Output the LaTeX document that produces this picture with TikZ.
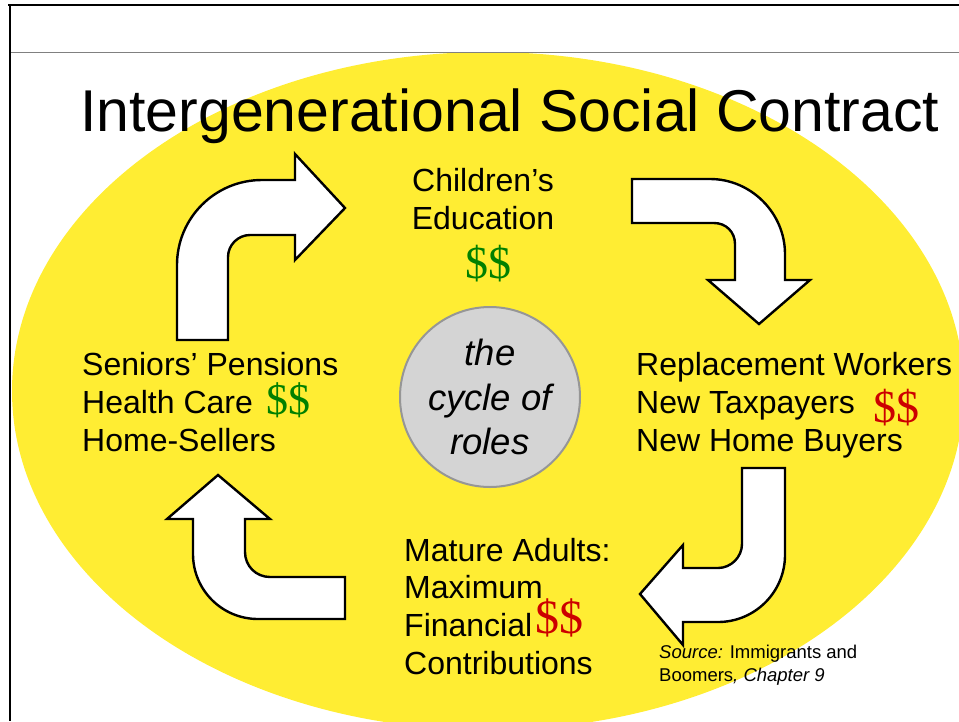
\documentclass[tikz,border=0pt]{standalone}
\usepackage{fontspec}
\setmainfont{Liberation Sans}
\newfontfamily\cashfont{Liberation Serif}
\usepackage[]{tikz}
\usetikzlibrary{positioning}
\definecolor{bgyellow}{RGB}{255,237,51}
\definecolor{cashgreen}{RGB}{0,128,0}
\definecolor{cashred}{RGB}{204,0,0}
\definecolor{hubgray}{RGB}{212,212,212}
\definecolor{rimgray}{RGB}{150,150,150}
\tikzset{blockarrow/.style={draw=black,line width=2.4pt,fill=white},
  role/.style={anchor=base west,align=left,inner sep=0pt,font=\fontsize{32}{37.6}\selectfont},
  cash/.style={anchor=base west,inner sep=0pt,font=\cashfont\fontsize{46}{46}\selectfont}}

\begin{document}
\begin{tikzpicture}[x=1pt,y=-1pt] % pixel units, y downwards
            \useasboundingbox (0,0) rectangle (959,721);
            \begin{scope}
              \clip (0,0) rectangle (959,721);
              \fill[bgyellow] (488,391) ellipse [x radius=476, y radius=339];
            \end{scope}
            \draw[line width=2pt] (8,5) -- (959,5);
            \draw[line width=2.5pt] (10,4) -- (10,721);
            \draw[gray,line width=1pt] (11,52) -- (959,52);  % slide frame
            \node[anchor=base west,inner sep=0pt,font=\fontsize{59}{59}\selectfont] (title) at (80,131) {Intergenerational Social Contract};
            % block arrows
            \draw[blockarrow] (177,340) -- (177,265) .. controls (177,218) and (215,180) .. (262,180) -- (295,180) -- (295,154) -- (345,208) -- (295,260) -- (295,235) -- (250,235) .. controls (238,235) and (228,245) .. (228,257) -- (228,340) -- cycle;
            \draw[blockarrow] (632,179) -- (710,179) .. controls (751,179) and (785,213) .. (785,254) -- (785,280) -- (810,280) -- (759,324) -- (708,280) -- (735,280) -- (735,244) .. controls (735,232) and (726,223) .. (714,223) -- (632,223) -- cycle;
            \draw[blockarrow] (742,468) -- (785,468) -- (785,555) .. controls (785,592) and (755,622) .. (718,622) -- (683,622) -- (683,645) -- (640,594) -- (683,545) -- (683,568) -- (718,568) .. controls (731,568) and (742,557) .. (742,544) -- cycle;
            \draw[blockarrow] (345,577) -- (345,619) -- (258,619) .. controls (222,619) and (193,590) .. (193,554) -- (193,519) -- (167,519) -- (218,475) -- (270,519) -- (245,519) -- (245,552) .. controls (245,566) and (256,577) .. (270,577) -- cycle;
            % roles (base = last line)
            \node[role,align=center,anchor=base] (kids) at (483,229) {Children’s\\Education};
            \node[cash,anchor=base,text=cashgreen] (kidscash) at (488,278) {\$\$};
            \node[role] (seniors) at (82,451) {Seniors’ Pensions\\Health Care\\Home-Sellers};
            \node[cash,text=cashgreen,font=\cashfont\fontsize{44}{44}\selectfont] (seniorscash) at (266,414) {\$\$};
            \node[role] (workers) at (636,451) {Replacement Workers\\New Taxpayers\\New Home Buyers};
            \node[cash,text=cashred] (workerscash) at (873,422) {\$\$};
            \node[role] (adults) at (404,674) {Mature Adults:\\Maximum\\Financial\\Contributions};
            \node[cash,text=cashred,font=\cashfont\fontsize{48}{48}\selectfont] (adultscash) at (535,633) {\$\$};
            \node[circle,fill=hubgray,draw=rimgray,line width=2pt,minimum size=180pt,inner sep=0pt,align=center,font=\itshape\fontsize{36.5}{44.5}\selectfont] (hub) at (490,397) {the\\cycle of\\roles};
            \node[anchor=base west,align=left,inner sep=0pt,font=\fontsize{18.5}{23}\selectfont] (source) at (659,681) {\textit{Source:} Immigrants and\\Boomers\textit{, Chapter 9}};
        \end{tikzpicture}
\end{document}
